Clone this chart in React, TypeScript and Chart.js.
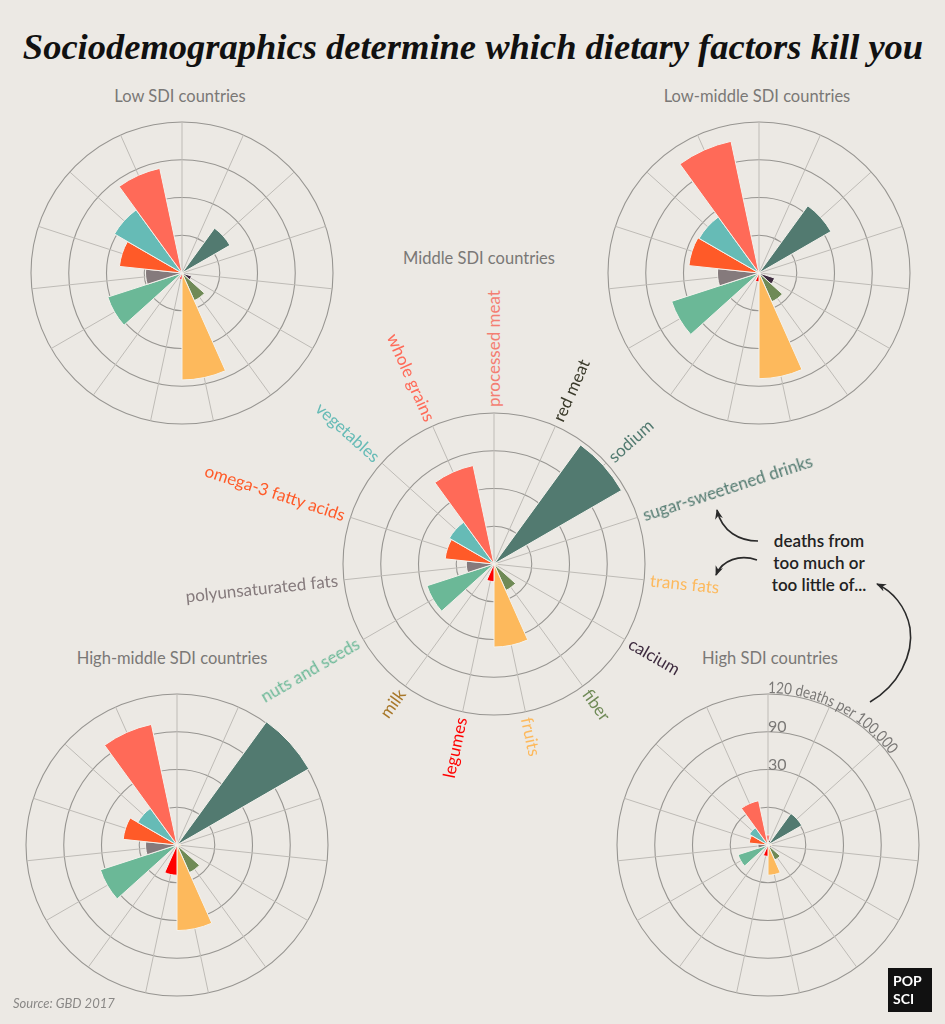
import React, { useEffect, useRef } from 'react';
import { Chart, registerables } from 'chart.js';
Chart.register(...registerables);

const BG = '#ECE9E4';

const CATEGORIES = [
  'processed meat', 'red meat', 'sodium', 'sugar-sweetened drinks', 'trans fats',
  'calcium', 'fiber', 'fruits', 'legumes', 'milk', 'nuts and seeds',
  'polyunsaturated fats', 'omega-3 fatty acids', 'vegetables', 'whole grains',
];

const COLORS = [
  '#F7837A', '#3C3C2A', '#527A70', '#5F8A80', '#FDB95C',
  '#3E2B3F', '#6F8A56', '#FDB95C', '#FF0000', '#A8782A', '#6BB897',
  '#857A7C', '#FF5A28', '#66BBB6', '#FF6A58',
];

const LABEL_COLORS = [
  '#F47E72', '#3A3A2A', '#527A70', '#527A70', '#FDB95C',
  '#3E2B3F', '#6F8A56', '#FDB95C', '#FF0000', '#A8782A', '#6BB897',
  '#857A7C', '#FF5A28', '#66BBB6', '#FF6A58',
];

// deaths per 100,000
const LOW_SDI = [1, 1, 44, 1, 1, 8, 24, 85, 5, 1, 62, 29, 50, 62, 85];
const LOW_MIDDLE_SDI = [1, 1, 66, 1, 1, 13, 25, 84, 7, 1, 73, 33, 56, 55, 107];
const MIDDLE_SDI = [2, 1, 117, 2, 3, 1, 23, 66, 14, 1, 56, 22, 39, 41, 80];
const HIGH_MIDDLE_SDI = [3, 2, 121, 2, 3, 1, 24, 68, 24, 1, 64, 25, 43, 36, 98];
const HIGH_SDI = [8, 4, 31, 3, 3, 3, 13, 24, 9, 1, 25, 8, 15, 17, 36];

const SCALE_MAX = 120;
const SCALE_STEP = 30;

const spokesPlugin = {
  id: 'spokes',
  beforeDatasetsDraw(chart: any) {
    const s = chart.scales.r;
    const ctx = chart.ctx;
    const n = chart.data.labels.length;
    const R = s.getDistanceFromCenterForValue(s.max);
    ctx.save();
    ctx.strokeStyle = '#BEBBB6';
    ctx.lineWidth = 1;
    for (let i = 0; i < n; i++) {
      const a = s.getIndexAngle(i) + Math.PI / n - Math.PI / 2;
      ctx.beginPath();
      ctx.moveTo(s.xCenter, s.yCenter);
      ctx.lineTo(s.xCenter + R * Math.cos(a), s.yCenter + R * Math.sin(a));
      ctx.stroke();
    }
    ctx.restore();
  },
};

const HALF = 156;

function Polar({ values, cx, cy }: { values: number[]; cx: number; cy: number }) {
  const ref = useRef<HTMLCanvasElement>(null);
  useEffect(() => {
    const chart = new Chart(ref.current as HTMLCanvasElement, {
      type: 'polarArea',
      data: {
        labels: CATEGORIES,
        datasets: [
          {
            data: values,
            backgroundColor: COLORS,
            borderColor: '#F3F1EC',
            borderWidth: 1,
          },
        ],
      },
      options: {
        animation: false,
        responsive: false,
        maintainAspectRatio: false,
        layout: { padding: 5 },
        plugins: { legend: { display: false }, tooltip: { enabled: false } },
        scales: {
          r: {
            min: 0,
            max: SCALE_MAX,
            startAngle: -12,
            ticks: { display: false, stepSize: SCALE_STEP },
            grid: { circular: true, color: '#979591', lineWidth: 1.1 },
            angleLines: { display: false },
            pointLabels: { display: false },
          },
        },
      } as any,
      plugins: [spokesPlugin],
    });
    return () => chart.destroy();
  }, [values]);
  return (
    <canvas
      ref={ref}
      width={HALF * 2}
      height={HALF * 2}
      style={{ position: 'absolute', left: cx - HALF, top: cy - HALF, width: HALF * 2, height: HALF * 2 }}
    />
  );
}

const subTitle: React.CSSProperties = {
  position: 'absolute',
  transform: 'translate(-50%, -50%)',
  fontFamily: 'Lato, sans-serif',
  fontSize: 16.5,
  color: '#7A7876',
  whiteSpace: 'nowrap',
};

function CategoryLabels({ cx, cy }: { cx: number; cy: number }) {
  const r0 = 157;
  return (
    <>
      {CATEGORIES.map((c, i) => {
        const theta = i * 24;
        const right = theta < 180;
        const rot = right ? theta - 90 : theta + 90;
        const tr = right
          ? `rotate(${rot}deg) translate(${r0}px, -50%)`
          : `rotate(${rot}deg) translate(calc(-100% - ${r0}px), -50%)`;
        return (
          <div
            key={c}
            style={{
              position: 'absolute',
              left: cx,
              top: cy,
              transformOrigin: '0 0',
              transform: tr,
              fontFamily: 'Lato, sans-serif',
              fontSize: 17,
              lineHeight: '20px',
              color: LABEL_COLORS[i],
              whiteSpace: 'nowrap',
            }}
          >
            {c}
          </div>
        );
      })}
    </>
  );
}

export default function App() {
  useEffect(() => {
    document.body.style.margin = '0';
    document.body.style.background = BG;
  }, []);
  const hx = 768;
  const hy = 845;
  const ar = 152;
  const a1 = (62 * Math.PI) / 180;
  return (
    <div style={{ position: 'absolute', left: 0, top: 0, width: 945, height: 1024, background: BG, overflow: 'hidden' }}>
      <div
        style={{
          position: 'absolute',
          left: 473,
          top: 46,
          transform: 'translate(-50%, -50%)',
          fontFamily: '"Liberation Serif", serif',
          fontWeight: 'bold',
          fontStyle: 'italic',
          fontSize: 36.5,
          color: '#111',
          whiteSpace: 'nowrap',
        }}
      >
        Sociodemographics determine which dietary factors kill you
      </div>

      <Polar values={LOW_SDI} cx={182} cy={273} />
      <Polar values={LOW_MIDDLE_SDI} cx={759} cy={273} />
      <Polar values={MIDDLE_SDI} cx={494} cy={564} />
      <Polar values={HIGH_MIDDLE_SDI} cx={177} cy={845} />
      <Polar values={HIGH_SDI} cx={768} cy={845} />

      <div style={{ ...subTitle, left: 180, top: 96 }}>Low SDI countries</div>
      <div style={{ ...subTitle, left: 757, top: 96 }}>Low-middle SDI countries</div>
      <div style={{ ...subTitle, left: 479, top: 258 }}>Middle SDI countries</div>
      <div style={{ ...subTitle, left: 172, top: 658 }}>High-middle SDI countries</div>
      <div style={{ ...subTitle, left: 770, top: 658 }}>High SDI countries</div>

      <CategoryLabels cx={494} cy={564} />

      <div
        style={{
          position: 'absolute',
          left: 819,
          top: 563,
          transform: 'translate(-50%, -50%)',
          fontFamily: 'Lato, sans-serif',
          fontWeight: 600,
          fontSize: 17,
          lineHeight: '22px',
          color: '#222',
          textAlign: 'center',
          whiteSpace: 'nowrap',
        }}
      >
        deaths from
        <br />
        too much or
        <br />
        too little of...
      </div>

      <div
        style={{
          position: 'absolute',
          left: 13,
          top: 1003,
          transform: 'translateY(-50%)',
          fontFamily: 'Lato, sans-serif',
          fontStyle: 'italic',
          fontSize: 13,
          color: '#8A8886',
        }}
      >
        Source: GBD 2017
      </div>

      <svg width={945} height={1024} style={{ position: 'absolute', left: 0, top: 0, pointerEvents: 'none' }}>
        <defs>
          <marker id="ah" markerWidth="12" markerHeight="10" refX="9" refY="4" orient="auto" markerUnits="userSpaceOnUse">
            <path d="M0,0 L10,4 L0,8 L3,4 z" fill="#2A2A2A" />
          </marker>
          <path
            id="ringText"
            d={`M ${hx} ${hy - ar} A ${ar} ${ar} 0 0 1 ${hx + ar * Math.sin(a1)} ${hy - ar * Math.cos(a1)}`}
            fill="none"
          />
        </defs>
        <path d="M758,541 C740,541 722,532 717,510" stroke="#2A2A2A" strokeWidth={1.6} fill="none" markerEnd="url(#ah)" />
        <path d="M757,560 C740,554 722,560 716,575" stroke="#2A2A2A" strokeWidth={1.6} fill="none" markerEnd="url(#ah)" />
        <path d="M870,702 C898,686 914,655 910,628 C906,606 892,591 877,584" stroke="#2A2A2A" strokeWidth={1.6} fill="none" markerEnd="url(#ah)" />

        <text fontFamily="Lato, sans-serif" fontSize={16} fill="#7A7876">
          <textPath href="#ringText" textLength={142} lengthAdjust="spacingAndGlyphs">
            120 deaths per 100,000
          </textPath>
        </text>
        <text x={768} y={732} fontFamily="Lato, sans-serif" fontSize={16} fill="#7A7876">90</text>
        <text x={768} y={770} fontFamily="Lato, sans-serif" fontSize={16} fill="#7A7876">30</text>

        <rect x={888} y={968} width={44} height={44} fill="#111" />
        <text x={893} y={986} fontFamily="Lato, sans-serif" fontWeight="bold" fontSize={14} fill="#fff">POP</text>
        <text x={893} y={1004} fontFamily="Lato, sans-serif" fontWeight="bold" fontSize={14} fill="#fff">SCI</text>
      </svg>
    </div>
  );
}
